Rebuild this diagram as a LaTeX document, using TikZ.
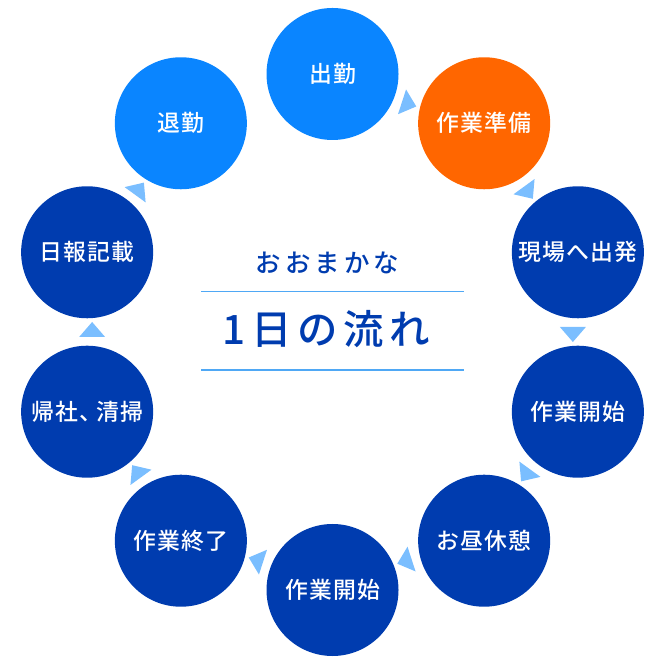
\documentclass[tikz,border=0pt]{standalone}
\usepackage{fontspec}
\setmainfont{Noto Sans CJK JP}[UprightFont = * Medium]
\newfontfamily\stepfont{Noto Sans CJK JP}[UprightFont = * Medium, LetterSpace = 5]
\newfontfamily\subfont{Noto Sans CJK JP}[UprightFont = * Medium, LetterSpace = 16]
\newfontfamily\titlefont{Noto Sans CJK JP}[UprightFont = * Medium, LetterSpace = 14]
\usepackage{xcolor}
\usetikzlibrary{calc}

\definecolor{deepblue}{HTML}{003CAF}
\definecolor{brightblue}{HTML}{0A85FF}
\definecolor{workorange}{HTML}{FF6600}
\definecolor{tipblue}{HTML}{7ABEFF}
\definecolor{ruleblue}{HTML}{4FA8F5}

\begin{document}
\begin{tikzpicture}[
		stepcirc/.style = {circle, minimum size = 2.64cm, inner sep = 0pt, fill = deepblue, text = white, font = \stepfont\fontsize{13}{15}\selectfont},
		homestep/.style = {stepcirc, fill = brightblue},
		nowstep/.style = {stepcirc, fill = workorange},
		pics/flowtip/.style = {code = {\fill [tipblue] (-0.1,-0.2) -- (-0.36,0.1) -- (0.16,0.1) -- cycle;}}
	]
	\useasboundingbox (0,0) rectangle (13.2,13.2);
	\begin{scope}[shift = {(6.65,6.56)}]
		% the day, clockwise from the top
		\node [homestep] (s0) at (90:5.16) {出勤};
		\node [nowstep] (s1) at (54:5.16) {作業準備};
		\node [stepcirc] (s2) at (18:5.16) {現場へ出発};
		\node [stepcirc] (s3) at (-18:5.16) {作業開始};
		\node [stepcirc] (s4) at (-54:5.16) {お昼休憩};
		\node [stepcirc] (s5) at (-90:5.16) {作業開始};
		\node [stepcirc] (s6) at (-126:5.16) {作業終了};
		\node [stepcirc] (s7) at (-162:5.16) {帰社、\kern-.25em 清掃};
		\node [stepcirc] (s8) at (162:5.16) {日報記載};
		\node [homestep] (s9) at (126:5.16) {退勤};

		% small tips between the steps
		\pic [rotate = 72] at ($(s0)!.5!(s1)$) {flowtip};
		\pic [rotate = 36] at ($(s1)!.5!(s2)$) {flowtip};
		\pic [rotate = 0] at ($(s2)!.5!(s3)$) {flowtip};
		\pic [rotate = -36] at ($(s3)!.5!(s4)$) {flowtip};
		\pic [rotate = -72] at ($(s4)!.5!(s5)$) {flowtip};
		\pic [rotate = -108] at ($(s5)!.5!(s6)$) {flowtip};
		\pic [rotate = -144] at ($(s6)!.5!(s7)$) {flowtip};
		\pic [rotate = 180] at ($(s7)!.5!(s8)$) {flowtip};
		\pic [rotate = 144] at ($(s8)!.5!(s9)$) {flowtip};

		\begin{scope}[text = deepblue]
			\node [font = \subfont\fontsize{14.5}{16}\selectfont] (sub) at (-0.1,1.38) {おおまかな};
			\node [font = \titlefont\fontsize{23}{26}\selectfont] (title) at (-0.12,0.06) {1日の流れ};
		\end{scope}
		\coordinate (ruletopl) at (-2.63,0.81);
		\coordinate (ruletopr) at (2.63,0.81);
		\coordinate (rulebotl) at (-2.63,-0.76);
		\coordinate (rulebotr) at (2.63,-0.76);
		\draw [ruleblue, line width = 0.6pt] (ruletopl) -- (ruletopr);
		\draw [ruleblue, line width = 0.6pt] (rulebotl) -- (rulebotr);
	\end{scope}
\end{tikzpicture}
\end{document}
